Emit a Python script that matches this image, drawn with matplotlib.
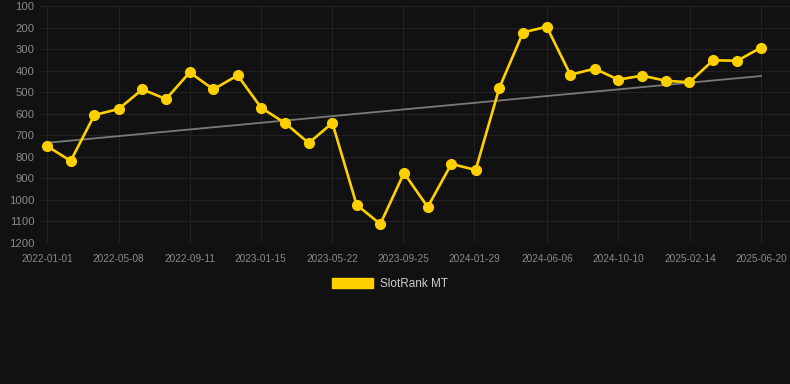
import matplotlib
matplotlib.use('Agg')
import matplotlib.pyplot as plt
import pandas as pd
from matplotlib.patches import Patch

# SlotRank MT rank history (lower rank number = better, so y is inverted)
dates = ['2022-01-01', '2022-02-12', '2022-03-26', '2022-05-08', '2022-06-19',
         '2022-07-31', '2022-09-11', '2022-10-23', '2022-12-05', '2023-01-16',
         '2023-02-27', '2023-04-10', '2023-05-22', '2023-07-04', '2023-08-15',
         '2023-09-26', '2023-11-07', '2023-12-19', '2024-01-31', '2024-03-13',
         '2024-04-24', '2024-06-05', '2024-07-17', '2024-08-29', '2024-10-10',
         '2024-11-21', '2025-01-02', '2025-02-13', '2025-03-27', '2025-05-09',
         '2025-06-20']
rank = [750, 819, 606, 578, 487, 532, 408, 487, 422, 573,
        643, 736, 643, 1023, 1112, 875, 1033, 833, 861, 480,
        223, 196, 419, 391, 442, 423, 447, 454, 352, 354,
        293]

# trend line endpoints
trend_dates = ['2022-01-01', '2025-06-20']
trend_vals = [735, 425]

tick_labels = ['2022-01-01', '2022-05-08', '2022-09-11', '2023-01-15', '2023-05-22',
               '2023-09-25', '2024-01-29', '2024-06-06', '2024-10-10', '2025-02-14',
               '2025-06-20']
y_ticks = [100, 200, 300, 400, 500, 600, 700, 800, 900, 1000, 1100, 1200]

BG = '#111111'
GOLD = '#FFD000'

plt.rcParams['font.family'] = ['Liberation Sans', 'DejaVu Sans']

fig = plt.figure(figsize=(7.9, 3.84), dpi=100, facecolor=BG)
ax = fig.add_axes([40 / 790, 1 - 243 / 384, 750 / 790, 237 / 384], facecolor=BG)

x = pd.to_datetime(dates)
ax.plot(pd.to_datetime(trend_dates), trend_vals, color='#7a7a7a', lw=1.3, zorder=2)
ax.plot(x, rank, color=GOLD, lw=1.9, marker='o', ms=7, zorder=3)

ax.set_ylim(1200, 100)
ax.set_yticks(y_ticks)
ax.set_xticks(pd.to_datetime(tick_labels))
ax.set_xticklabels(tick_labels)
# first point sits ~7px from the left edge, last point ~29px from the right
ax.set_xlim(pd.Timestamp('2021-12-19 14:00'), pd.Timestamp('2025-08-10 10:00'))

ax.grid(True, color='#222222', lw=0.8)
ax.set_axisbelow(True)
for s in ax.spines.values():
    s.set_visible(False)
ax.tick_params(axis='y', length=0, pad=4, labelsize=8.1, labelcolor='#8a8a8a')
ax.tick_params(axis='x', length=0, pad=8, labelsize=7.2, labelcolor='#8a8a8a')

fig.legend(handles=[Patch(facecolor=GOLD, edgecolor=GOLD, label='SlotRank MT')],
           loc='center', bbox_to_anchor=(390 / 790, 1 - 284 / 384),
           frameon=False, fontsize=8.5, labelcolor='#cccccc',
           handlelength=3.4, handleheight=1.0, handletextpad=0.6)

fig.savefig('out.png', dpi=100, facecolor=BG)
